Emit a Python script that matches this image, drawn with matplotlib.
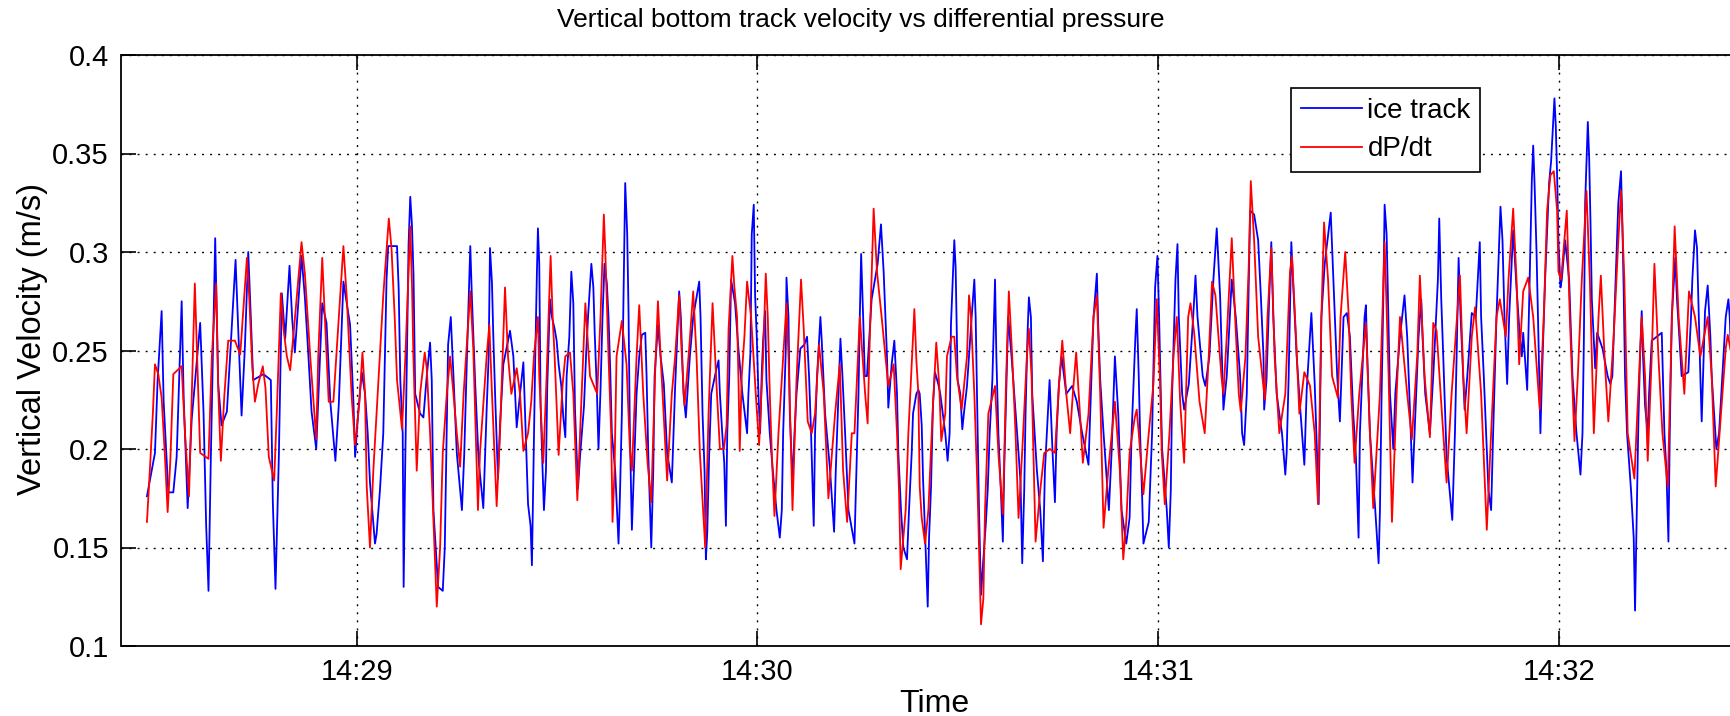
import matplotlib
matplotlib.use("Agg")
import matplotlib.pyplot as plt
import matplotlib.dates as mdates
from matplotlib.ticker import MultipleLocator, FuncFormatter
from datetime import datetime, timedelta

plt.rcParams['font.family'] = ['Liberation Sans', 'DejaVu Sans']

# tiempos en segundos despues de 14:29:00
t_ice = [-31.41, -30.81, -30.21, -29.81, -29.21, -28.91, -28.21, -27.46, -26.96, -26.21, -25.91, -25.31, -24.71, -23.44,
         -22.94, -22.54, -22.19, -21.84, -21.19, -20.74, -20.24, -19.44, -18.84, -18.14, -17.74, -17.24, -16.74, -16.24,
         -15.89, -15.5, -13.96, -12.86, -12.56, -12.16, -11.66, -11.21, -10.71, -10.06, -9.66, -9.26, -8.26, -7.76,
         -7.26, -6.76, -6.06, -5.16, -4.52, -3.95, -3.19, -2.69, -1.99, -1.49, -0.99, -0.49, -0.24, 0.26, 0.76, 1.25,
         1.65, 1.99, 2.74, 2.98, 3.48, 3.98, 4.47, 4.71, 6.04, 6.29, 6.53, 6.89, 7.03, 7.29, 7.52, 7.77, 8.02,
         8.27, 8.51, 8.76, 9.49, 9.99, 10.49, 10.99, 11.24, 11.49, 12.19, 12.89, 13.19, 13.49, 13.69, 14.09, 14.49, 14.99,
         15.76, 16.11, 16.51, 17.01, 17.26, 17.76, 18.26, 18.96, 19.46, 19.76, 19.96, 20.26, 20.46, 20.76, 21.16, 21.46,
         21.96, 22.96, 23.46, 23.96, 24.46, 24.96, 25.46, 25.66, 26.04, 26.24, 26.54, 26.74, 26.99, 27.14, 27.34, 27.54,
         27.84, 28.04, 28.34, 28.54, 28.94, 29.24, 29.64, 29.94, 30.24, 30.64, 30.94, 31.24, 31.44, 31.84, 32.14, 32.44,
         32.69, 33.14, 33.44, 34.04, 34.34, 34.64, 35.14, 35.44, 35.64, 35.98, 36.21, 36.51, 36.81, 37.11, 37.46, 37.71,
         37.96, 38.21, 38.71, 39.21, 39.41, 39.71, 39.91, 40.21, 40.51, 40.71, 40.91, 41.21, 41.41, 41.91, 42.31, 42.71,
         43.21, 43.41, 43.66, 44.11, 44.41, 44.61, 45.11, 45.51, 45.99, 46.49, 47.19, 47.69, 48.29, 48.54, 48.94, 49.29,
         49.89, 50.39, 51.29, 51.49, 51.79, 52.09, 52.29, 52.49, 52.79, 53.09, 53.89, 54.19, 54.39, 54.74, 55.04, 55.29,
         55.49, 55.79, 56.06, 56.66, 57.16, 57.76, 58.46, 58.66, 58.96, 59.16, 59.46, 59.66, 59.91, 60.16, 60.41, 60.66,
         60.86, 61.16, 61.36, 61.86, 62.26, 62.86, 63.36, 63.66, 63.86, 64.26, 64.36, 64.66, 64.86, 65.26, 65.56, 65.86,
         66.44, 67.04, 67.44, 67.74, 68.04, 68.44, 68.64, 68.94, 69.44, 69.64, 70.14, 70.89, 71.49, 71.74, 72.14, 72.44,
         72.74, 73.14, 73.64, 74.54, 74.84, 75.14, 75.34, 75.54, 75.84, 76.09, 76.41, 77.11, 78.01, 78.51, 78.91, 79.41,
         79.61, 80.11, 80.51, 80.91, 81.11, 81.51, 81.86, 82.41, 82.71, 83.11, 83.31, 83.81, 84.11, 84.31, 84.61, 84.81,
         85.11, 85.51, 85.71, 86.01, 86.29, 86.59, 87.09, 87.39, 88.14, 88.49, 88.79, 88.99, 89.49, 89.69, 89.99, 90.39,
         90.69, 90.99, 91.39, 91.69, 92.09, 92.49, 92.69, 92.99, 93.19, 93.49, 93.84, 94.19, 94.49, 94.79, 95.19, 95.59,
         95.79, 96.09, 96.46, 96.76, 96.96, 97.26, 97.56, 98.06, 98.56, 99.11, 99.41, 99.66, 99.96, 100.16, 100.46, 100.66,
         100.96, 101.16, 101.86, 102.36, 102.76, 103.06, 103.56, 103.76, 103.96, 104.21, 104.56, 104.81, 105.16, 105.56,
         106.26, 107.14, 107.84, 108.64, 109.59, 109.84, 110.34, 110.84, 111.04, 111.34, 111.84, 112.64, 113.04, 113.54,
         114.04, 114.54, 115.24, 115.74, 116.04, 116.61, 116.81, 117.11, 117.31, 117.61, 117.81, 118.61, 119.11, 119.56,
         119.91, 120.16, 120.41, 120.61, 121.31, 121.61, 121.91, 122.11, 122.61, 122.91, 123.11, 123.61, 123.91, 124.61,
         125.26, 125.61, 125.91, 126.69, 127.09, 127.69, 128.29, 128.79, 129.29, 129.79, 130.29, 131.04, 131.64,
         132.29, 132.59, 132.89, 133.29, 133.49, 133.79, 134.39, 134.99, 135.39, 135.79, 135.89, 136.24, 136.66, 136.96,
         137.26, 137.76, 138.56, 139.06, 139.26, 139.56, 139.96, 140.26, 140.76, 141.26, 141.91, 142.26, 142.96, 143.46,
         144.06, 144.46, 144.96, 145.86, 146.26, 146.83, 147.23, 147.78, 148.28, 148.73, 149.23, 149.63, 150.03, 150.23,
         150.93, 151.13, 151.33, 151.73, 152.53, 153.03, 153.23, 153.48, 153.73, 153.93, 154.23, 154.43, 154.73, 155.23,
         155.53, 156.23, 156.91, 157.31, 157.81, 158.11, 158.41, 159.01, 159.41, 159.61, 160.01, 160.71, 161.21, 161.91,
         162.11, 162.41, 162.71, 163.21, 164.06, 164.46, 164.71, 165.01, 165.31, 165.91, 166.31, 166.98, 167.58, 168.18,
         168.38, 168.78, 169.48, 169.88, 170.18, 170.68, 171.28, 171.58, 171.88, 172.28, 172.58, 173.18, 173.68, 174.18,
         174.48, 174.68, 175.28, 175.53, 175.78, 175.98, 176.18, 176.38, 176.68, 176.96, 177.26, 177.46, 177.96, 178.56,
         178.86, 179.36, 179.56, 179.76, 179.96, 180.26, 180.46, 180.96, 181.56, 182.06, 182.66, 183.26, 183.56, 183.76,
         183.96, 184.36, 184.56, 184.76, 184.96, 185.46, 185.76, 186.56, 187.33, 187.73, 188.03, 188.33, 188.73, 188.93,
         189.33, 189.53, 189.73, 189.93, 190.23, 190.83, 191.23, 191.43, 191.73, 191.93, 192.18, 192.43, 192.63, 192.93,
         193.33, 193.53, 193.93, 195.43, 195.83, 196.13, 196.43, 196.63, 196.93, 197.46, 197.71, 198.06, 198.41, 199.41,
         199.81, 200.01, 200.41, 200.71, 200.91, 201.21, 201.41, 201.71, 201.91, 202.31, 202.71, 202.91, 203.61, 204.01,
         204.61, 205.01, 205.41, 205.61, 205.81]
v_ice = [.176, .187, .198, .235, .270, .224, .178, .178, .196, .275, .226, .170, .215, .264,
         .219, .161, .128, .196, .307, .233, .212, .219, .254, .296, .261, .217, .252, .300,
         .270, .235, .238, .235, .173, .129, .196, .279, .256, .293, .266, .249, .298, .277,
         .249, .219, .200, .274, .264, .224, .194, .222, .285, .274, .263, .224, .196, .220, .239, .228,
         .208, .183, .152, .157, .179, .208, .286, .303, .303, .281, .235, .208, .130, .198, .247, .304, .328,
         .314, .288, .228, .218, .216, .237, .254, .235, .169, .130, .128, .150, .212, .253, .267, .237, .198,
         .169, .198, .247, .303, .276, .232, .194, .170, .220, .247, .302, .284, .257, .224, .185, .212,
         .243, .260, .247, .211, .228, .244, .193, .172, .161, .141, .204, .247, .290, .312, .294, .222,
         .189, .169, .189, .232, .276, .267, .261, .255, .243, .232, .216, .206, .237, .257, .290, .274,
         .220, .180, .196, .222, .247, .267, .294, .282, .259, .228, .200, .230, .267, .294, .284, .267,
         .241, .208, .189, .152, .175, .218, .267, .335, .309, .269, .208, .159, .179, .228, .247, .258,
         .259, .237, .198, .150, .189, .237, .263, .247, .233, .198, .183, .232, .280, .267, .228, .216,
         .247, .267, .285, .267, .218, .189, .144, .157, .198, .228, .241, .245, .228, .208, .193, .161,
         .208, .237, .286, .274, .251, .228, .208, .228, .249, .309, .324, .278, .257, .228, .208, .239,
         .255, .270, .235, .208, .191, .169, .155, .169, .208, .251, .287, .267, .218, .183, .208, .228,
         .251, .253, .257, .237, .208, .161, .208, .237, .267, .255, .218, .189, .158, .189, .228, .256,
         .237, .208, .169, .152, .189, .228, .267, .299, .267, .237, .237, .276, .294, .314, .290, .247,
         .221, .243, .255, .228, .198, .169, .150, .144, .169, .198, .218, .228, .230, .228, .212, .185,
         .157, .120, .155, .181, .222, .239, .233, .228, .208, .194, .208, .263, .306, .292, .235, .228,
         .210, .220, .232, .247, .267, .286, .267, .208, .169, .126, .144, .161, .179, .208, .235, .286,
         .247, .208, .179, .153, .189, .228, .267, .247, .224, .198, .183, .142, .179, .218, .259, .277,
         .267, .228, .189, .169, .143, .189, .222, .235, .218, .198, .173, .208, .233, .247,
         .228, .232, .224, .208, .192, .218, .267, .289, .263, .235, .208, .169, .198, .247,
         .218, .169, .152, .165, .208, .257, .271, .237, .208, .177, .152, .163, .208, .282,
         .298, .267, .228, .200, .169, .150, .179, .228, .286, .304, .267, .228, .220, .233,
         .267, .288, .267, .237, .232, .247, .286, .312, .278, .220, .237, .286, .267,
         .237, .208, .202, .228, .267, .321, .319, .306, .278, .247, .220, .235, .278, .305,
         .267, .228, .208, .187, .198, .237, .305, .282, .247, .222, .192, .230, .269, .233,
         .172, .267, .294, .320, .286, .237, .214, .267, .269, .257, .218, .196, .155, .208,
         .267, .273, .247, .208, .169, .142, .169, .228, .276, .324, .309, .276, .228, .200,
         .228, .257, .278, .257, .212, .183, .208, .257, .276, .257, .228, .208, .237, .286,
         .317, .276, .247, .196, .164, .208, .247, .297, .267, .220, .237, .269, .267, .305,
         .267, .237, .179, .169, .208, .267, .323, .306, .267, .233, .267, .311, .282, .257,
         .247, .259, .230, .267, .306, .337, .354, .335, .300, .257, .208, .233, .286, .335,
         .346, .378, .364, .339, .306, .282, .286, .306, .286, .237, .208, .187, .208, .253,
         .325, .366, .348, .315, .276, .241, .259, .251, .237, .233, .237, .267, .306, .325,
         .341, .315, .280, .237, .208, .179, .155, .118, .175, .214, .247, .270, .247, .222,
         .208, .228, .255, .259, .208, .189, .153, .208, .267, .297, .276, .257, .237, .239,
         .267, .286, .311, .302, .276, .237, .214, .247, .270, .283, .257, .237, .200, .208,
         .243, .267, .276, .267, .247]

t_dp = [-31.41, -31.01, -30.51, -30.21, -29.71, -29.21, -28.71, -28.31, -27.91, -27.46, -26.21, -25.71, -25.11, -24.71,
        -24.24, -23.94, -23.44, -22.19, -21.69, -21.04, -20.74, -20.34, -19.84, -19.24, -18.24, -17.44, -16.44, -16.09,
        -15.64, -15.24, -14.74, -14.06, -13.66, -13.16, -12.36, -11.96, -11.36, -10.96, -10.46, -9.96, -9.26, -8.26,
        -7.76, -6.96, -6.06, -5.76, -5.16, -4.76, -4.19, -3.49, -2.69, -1.99, -1.49, -0.74, -0.24, 0.41, 0.86, 1.25,
        1.5, 1.99, 2.49, 2.98, 3.48, 3.98, 4.81, 5.21, 5.69, 6.04, 6.79, 7.29, 8.02, 8.29, 8.49, 8.99, 9.49, 10.19,
        10.49, 10.99, 11.99, 12.49, 12.89, 13.49, 13.99, 14.49, 14.99, 15.49, 16.01, 17.01, 17.46, 18.16, 18.46, 19.46,
        19.86, 20.26, 20.96, 21.46, 22.21, 22.66, 23.16, 23.96, 24.46, 24.96, 25.66, 26.14, 26.54, 27.14, 27.34, 27.94,
        28.44, 29.04, 29.34, 29.64, 30.24, 30.84, 31.24, 31.94, 32.44, 33.04, 33.64, 34.24, 34.94, 36.01, 36.51, 37.01,
        37.21, 37.71, 38.11, 38.31, 38.61, 38.91, 39.71, 40.41, 40.91, 41.21, 41.91, 42.31, 42.91, 43.56, 44.11, 44.71,
        45.11, 45.51, 46.49, 47.19, 47.69, 48.29, 48.69, 49.09, 49.79, 50.39, 50.89, 51.39, 52.19, 52.69, 53.29, 53.89,
        54.39, 54.99, 55.39, 55.69, 56.26, 56.56, 56.96, 57.16, 57.36, 57.66, 58.06, 58.46, 59.06, 59.76, 60.26, 60.86,
        61.26, 61.56, 61.86, 62.16, 62.56, 63.16, 63.86, 64.36, 64.66, 65.06, 65.26, 65.86, 66.54, 66.94, 67.54, 68.14,
        68.64, 69.24, 69.94, 70.64, 71.64, 72.34, 72.84, 73.44, 74.14, 74.54, 75.34, 76.14, 76.51, 76.76, 77.41, 77.91,
        78.61, 79.61, 80.41, 80.91, 81.21, 81.46, 82.21, 82.61, 83.51, 83.81, 84.11, 84.31, 84.61, 85.11, 85.61, 86.29,
        86.79, 87.24, 87.54, 88.14, 88.39, 89.09, 89.49, 89.89, 90.59, 91.39, 91.69, 91.99, 92.49, 92.99, 93.49, 93.84,
        94.09, 94.59, 95.59, 96.09, 96.76, 97.26, 97.66, 98.16, 98.66, 99.11, 99.71, 100.36, 100.66, 101.06, 101.66, 102.36,
        102.96, 103.81, 104.56, 105.16, 105.66, 106.26, 106.84, 107.24, 107.74, 108.34, 108.74, 109.59, 110.34, 110.84,
        111.34, 111.84, 112.54, 113.54, 114.29, 114.79, 115.24, 115.74, 116.51, 116.81, 117.11, 117.81, 118.61, 119.31,
        119.81, 120.31, 120.56, 121.01, 121.71, 122.31, 122.81, 123.31, 123.91, 124.51, 124.86, 125.41, 126.21, 126.99,
        127.59, 128.09, 128.59, 129.49, 129.79, 130.29, 131.04, 131.54, 132.09, 132.39, 133.09, 133.59, 133.89, 134.39,
        134.99, 135.99, 136.39, 136.96, 137.46, 138.16, 139.06, 139.76, 140.06, 140.66, 141.16, 141.91, 142.76, 143.46,
        143.96, 144.46, 144.86, 145.46, 146.06, 146.93, 147.33, 148.03, 148.53, 148.93, 149.43, 150.13, 151.13, 151.73,
        152.23, 153.23, 153.93, 154.53, 155.03, 155.73, 156.23, 157.31, 158.01, 158.81, 159.21, 159.91, 160.71, 161.21,
        161.71, 162.51, 163.21, 163.96, 165.21, 165.71, 166.21, 166.98, 167.48, 168.38, 169.23, 169.88, 170.68, 171.18,
        172.08, 172.48, 173.18, 173.68, 174.08, 174.68, 175.43, 176.18, 177.16, 177.76, 178.26, 178.76, 179.26, 179.76,
        179.96, 180.36, 181.21, 181.66, 182.36, 182.86, 183.46, 184.16, 184.66, 185.26, 185.96, 186.31, 186.86, 187.43,
        188.23, 188.93, 189.33, 189.83, 190.33, 191.33, 192.03, 192.43, 192.93, 193.33, 193.93, 194.33, 194.93, 195.53,
        196.33, 196.88, 197.36, 197.96, 198.81, 199.51, 200.41, 201.21, 202.31, 202.91, 203.51, 204.31, 205.01, 205.31,
        205.81]
v_dp = [.163, .187, .219, .243, .238, .226, .196, .168, .194, .238, .242, .208, .176, .226,
        .284, .252, .198, .195, .247, .284, .231, .194, .226, .255, .255, .248, .297, .277,
        .242, .224, .233, .242, .231, .196, .184, .219, .279, .261, .247, .240, .266, .305,
        .289, .247, .205, .247, .297, .266, .224, .224, .266, .303, .277, .226, .202, .224, .249, .228,
        .181, .150, .189, .218, .247, .278, .317, .302, .267, .235, .210, .247, .313, .282, .247, .189, .228, .249,
        .241, .208, .120, .150, .198, .228, .247, .228, .208, .191, .228, .280, .251, .169, .198, .247,
        .263, .228, .171, .208, .282, .247, .228, .241, .228, .199, .208, .224, .247, .267, .237, .193,
        .237, .298, .267, .247, .197, .233, .247, .249, .228, .174, .224, .274, .237, .228, .267, .319,
        .302, .247, .208, .163, .189, .247, .265, .243, .200, .189, .247, .273, .228, .193, .173, .241,
        .275, .247, .184, .228, .247, .278, .247, .222, .251, .280, .247, .198, .150, .218, .274, .232,
        .200, .200, .212, .261, .298, .282, .267, .237, .199, .237, .257, .285, .267, .228, .202, .247,
        .289, .267, .228, .198, .166, .208, .247, .274, .247, .198, .169, .235, .286, .261, .214, .208,
        .218, .253, .228, .175, .218, .243, .189, .163, .208, .208, .267, .228, .213, .247, .322, .290,
        .267, .232, .243, .208, .179, .139, .169, .208, .271, .245, .228, .181, .165, .152, .169, .222,
        .254, .232, .204, .218, .247, .257, .257, .237, .220, .247, .278, .267, .228, .177, .111, .124,
        .169, .218, .232, .198, .167, .237, .280, .247, .208, .165, .202, .247, .261, .237, .153, .179,
        .198, .200, .198, .232, .255, .228, .208, .228, .249, .216, .193, .218, .267, .278,
        .228, .160, .189, .224, .189, .144, .163, .198, .216, .220, .208, .177, .208, .233,
        .276, .233, .198, .172, .208, .247, .267, .224, .193, .267, .274, .259, .224, .208,
        .247, .285, .278, .237, .228, .257, .307, .267, .228, .219, .247, .294, .336, .306,
        .257, .225, .267, .302, .247, .208, .228, .290, .298, .257, .218, .239, .232, .208,
        .172, .267, .315, .286, .237, .226, .267, .300, .269, .228, .193, .228, .264, .208,
        .170, .228, .305, .237, .163, .228, .267, .228, .205, .247, .288, .237, .206, .264,
        .260, .218, .183, .228, .288, .237, .208, .257, .272, .228, .159, .208, .267, .276,
        .257, .286, .322, .286, .243, .280, .287, .267, .220, .267, .321, .339, .341, .321,
        .290, .286, .321, .267, .204, .237, .286, .331, .286, .208, .267, .288, .247, .214,
        .257, .306, .331, .286, .208, .185, .237, .267, .237, .194, .247, .294, .247, .208,
        .181, .257, .313, .267, .228, .280, .267, .247, .267, .237, .181, .218, .251, .258,
        .249]

y_ticks_step = 0.05
x_start, x_end = -35.22, 205.8

base = datetime(2013, 1, 1, 14, 29, 0)


def to_time(secs):
    return [base + timedelta(seconds=s) for s in secs]


fig = plt.figure(figsize=(17.31, 7.16), dpi=100)
ax = fig.add_axes([121.5 / 1731, 70 / 716, 1 - 121.5 / 1731, 591 / 716])

ax.plot(to_time(t_ice), v_ice, color=(0, 0, 1), lw=1.3, label='ice track')
ax.plot(to_time(t_dp), v_dp, color=(1, 0, 0), lw=1.3, label='dP/dt')

ax.set_xlim(to_time([x_start])[0], to_time([x_end])[0])
ax.set_ylim(0.1, 0.4)
ax.yaxis.set_major_locator(MultipleLocator(y_ticks_step))
ax.yaxis.set_major_formatter(FuncFormatter(lambda v, p: '%g' % round(v, 3)))
ax.xaxis.set_major_locator(mdates.MinuteLocator())
ax.xaxis.set_major_formatter(mdates.DateFormatter('%H:%M'))

ax.set_axisbelow(True)
ax.grid(True, color='k', linestyle=(0, (1.4, 4.4)), linewidth=1.0)
ax.tick_params(direction='in', length=11, width=1.2, top=True, right=False,
               labelsize=21, pad=9)
ax.spines['right'].set_visible(False)
for s in ['left', 'bottom', 'top']:
    ax.spines[s].set_linewidth(1.3)
    ax.spines[s].set_color('k')

ax.set_xlabel('Time', fontsize=23, va='center')
ax.xaxis.set_label_coords(0.505, -0.0986)
ax.set_ylabel('Vertical Velocity (m/s)', fontsize=23.5, va='center')
ax.yaxis.set_label_coords(-0.0555, 0.519)
ax.set_title('Vertical bottom track velocity vs differential pressure',
             fontsize=19, x=0.459, y=1.059, va='center', pad=0)

leg = ax.legend(loc='upper left', bbox_to_anchor=(1291 / 1731, 1 - 88 / 716),
                bbox_transform=fig.transFigure, borderaxespad=0, fancybox=False,
                edgecolor='k', framealpha=1, fontsize=20, handlelength=2.2,
                handletextpad=0.2, borderpad=0.35, labelspacing=0.45)
leg.get_frame().set_linewidth(1.2)

fig.savefig('out.png', dpi=100)
